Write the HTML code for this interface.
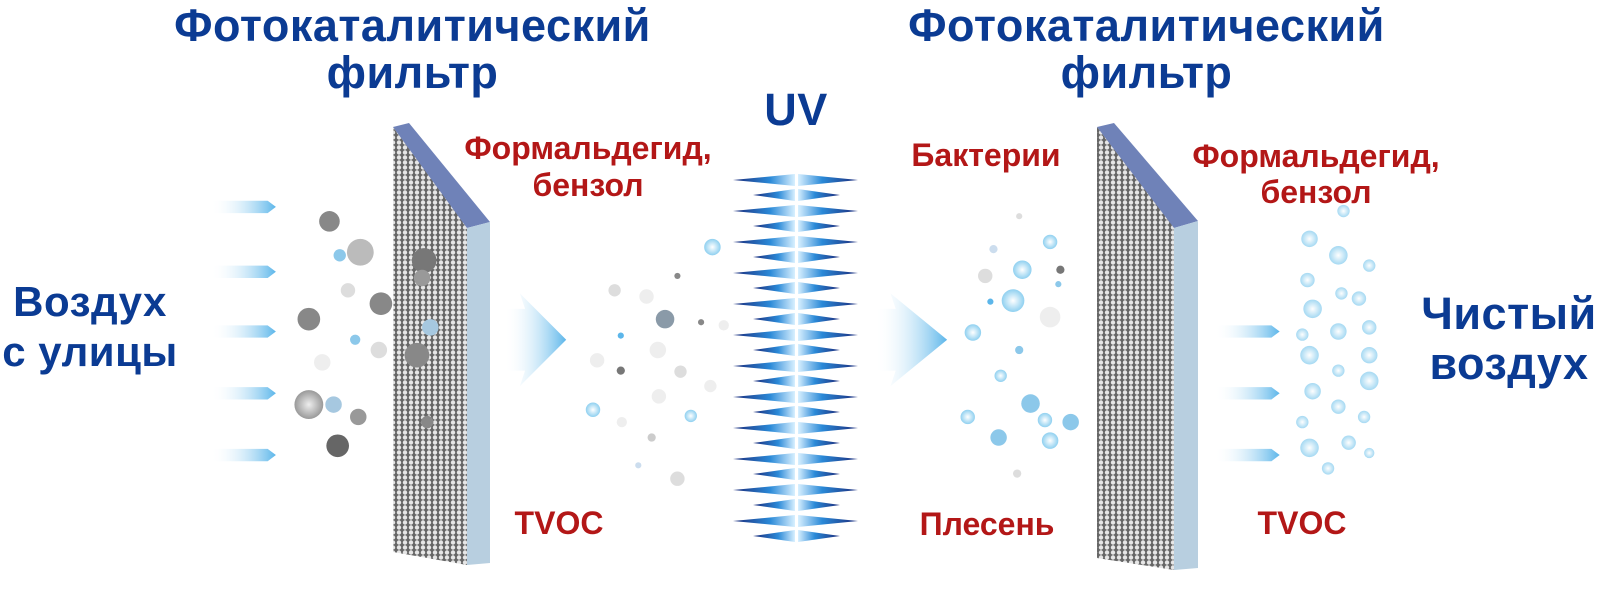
<!DOCTYPE html>
<html><head><meta charset="utf-8"><style>
body{margin:0;width:1606px;height:592px;background:#fff;overflow:hidden;position:relative;font-family:"Liberation Sans",sans-serif;font-weight:bold}
.t{position:absolute;white-space:nowrap;text-align:center}
.b{color:#0b3b93;font-size:45px;letter-spacing:0.5px}
.r{color:#b31717;font-size:32px}
</style></head><body>
<svg width="1606" height="592" style="position:absolute;left:0;top:0">
<defs>
<pattern id="mesh" width="6" height="5" patternUnits="userSpaceOnUse"><rect width="6" height="5" fill="#666"/><circle cx="3" cy="2.5" r="2.2" fill="#e6e6e6"/></pattern>
<linearGradient id="arr" x1="0" x2="1"><stop offset="0" stop-color="#fff" stop-opacity="0"/><stop offset="1" stop-color="#5cb6ea"/></linearGradient>
<linearGradient id="sl" x1="0" x2="1"><stop offset="0" stop-color="#1a2a7a"/><stop offset="0.6" stop-color="#2b8ad8"/><stop offset="1" stop-color="#d8f0ff"/></linearGradient>
<linearGradient id="sr" x1="1" x2="0"><stop offset="0" stop-color="#1a2a7a"/><stop offset="0.6" stop-color="#2b8ad8"/><stop offset="1" stop-color="#d8f0ff"/></linearGradient>
<radialGradient id="bub"><stop offset="0" stop-color="#fff"/><stop offset="1" stop-color="#8fd0f0"/></radialGradient>
<radialGradient id="gr"><stop offset="0" stop-color="#eee"/><stop offset="1" stop-color="#999"/></radialGradient>
<g id="L"><polygon points="733,0 795,-6 795,6" fill="url(#sl)"/><polygon points="858,0 798,-6 798,6" fill="url(#sr)"/></g>
<g id="S"><polygon points="753,0 795,-6 795,6" fill="url(#sl)"/><polygon points="840,0 798,-6 798,6" fill="url(#sr)"/></g>
</defs>
<polygon points="393,127 467,227 467,565 393,552" fill="url(#mesh)"/>
<polygon points="393,127 409,123 490,222 467,228" fill="#6f82b8"/>
<polygon points="467,228 490,222 490,563 467,565" fill="#b8cfe0"/>
<polygon points="1097,127 1174,227 1174,570 1097,558" fill="url(#mesh)"/>
<polygon points="1097,127 1114,123 1198,221 1174,228" fill="#6f82b8"/>
<polygon points="1174,228 1198,221 1198,568 1174,570" fill="#b8cfe0"/>
<use href="#L" y="180"/><use href="#S" y="195"/><use href="#L" y="211"/><use href="#S" y="226"/><use href="#L" y="242"/><use href="#S" y="257"/>
<use href="#L" y="273"/><use href="#S" y="288"/><use href="#L" y="304"/><use href="#S" y="319"/><use href="#L" y="335"/><use href="#S" y="350"/>
<use href="#L" y="366"/><use href="#S" y="381"/><use href="#L" y="397"/><use href="#S" y="412"/><use href="#L" y="428"/><use href="#S" y="443"/>
<use href="#L" y="459"/><use href="#S" y="474"/><use href="#L" y="490"/><use href="#S" y="505"/><use href="#L" y="521"/><use href="#S" y="536"/>
<g transform="scale(1.0295)">
<g fill="url(#arr)">
<path d="M205 195h55l8 6-8 6h-55z"/><path d="M205 258h55l8 6-8 6h-55z"/><path d="M205 316h55l8 6-8 6h-55z"/><path d="M205 376h55l8 6-8 6h-55z"/><path d="M205 436h55l8 6-8 6h-55z"/>
<path d="M1180 316h55l8 6-8 6h-55z"/><path d="M1180 376h55l8 6-8 6h-55z"/><path d="M1180 436h55l8 6-8 6h-55z"/>
<path d="M490 300h20l-5-15 45 45-45 45 5-15h-20z"/>
<path d="M850 300h20l-5-15 55 45-55 45 5-15h-20z"/>
</g>
<g>
<circle cx="320" cy="215" r="10" fill="#888"/><circle cx="350" cy="245" r="13" fill="#bbb"/><circle cx="330" cy="248" r="6" fill="#8cc8ea"/>
<circle cx="412" cy="253" r="12" fill="#777"/><circle cx="410" cy="270" r="8" fill="#999"/><circle cx="338" cy="282" r="7" fill="#ddd"/>
<circle cx="370" cy="295" r="11" fill="#888"/><circle cx="300" cy="310" r="11" fill="#888"/><circle cx="345" cy="330" r="5" fill="#8cc8ea"/>
<circle cx="368" cy="340" r="8" fill="#ddd"/><circle cx="405" cy="345" r="12" fill="#888"/><circle cx="418" cy="318" r="8" fill="#a6c8e0"/>
<circle cx="313" cy="352" r="8" fill="#eee"/><circle cx="300" cy="393" r="14" fill="url(#gr)"/><circle cx="324" cy="393" r="8" fill="#a6c8e0"/>
<circle cx="348" cy="405" r="8" fill="#999"/><circle cx="328" cy="433" r="11" fill="#666"/><circle cx="415" cy="410" r="6" fill="#888"/>
</g>
<g>
<circle cx="692" cy="240" r="8" fill="url(#bub)"/><circle cx="597" cy="282" r="6" fill="#ddd"/><circle cx="628" cy="288" r="7" fill="#eee"/>
<circle cx="658" cy="268" r="3" fill="#888"/><circle cx="646" cy="310" r="9" fill="#8a9aa8"/><circle cx="603" cy="326" r="3" fill="#5cb6ea"/>
<circle cx="681" cy="313" r="3" fill="#888"/><circle cx="703" cy="316" r="5" fill="#eee"/><circle cx="639" cy="340" r="8" fill="#eee"/>
<circle cx="580" cy="350" r="7" fill="#eee"/><circle cx="603" cy="360" r="4" fill="#777"/><circle cx="661" cy="361" r="6" fill="#ddd"/>
<circle cx="690" cy="375" r="6" fill="#eee"/><circle cx="640" cy="385" r="7" fill="#eee"/><circle cx="576" cy="398" r="7" fill="url(#bub)"/>
<circle cx="604" cy="410" r="5" fill="#eee"/><circle cx="671" cy="404" r="6" fill="url(#bub)"/><circle cx="633" cy="425" r="4" fill="#ccc"/>
<circle cx="658" cy="465" r="7" fill="#ddd"/><circle cx="620" cy="452" r="3" fill="#cde"/>
</g>
<g>
<circle cx="990" cy="210" r="3" fill="#ddd"/><circle cx="1020" cy="235" r="7" fill="url(#bub)"/><circle cx="965" cy="242" r="4" fill="#cde"/>
<circle cx="993" cy="262" r="9" fill="url(#bub)"/><circle cx="957" cy="268" r="7" fill="#ddd"/><circle cx="1030" cy="262" r="4" fill="#777"/>
<circle cx="984" cy="292" r="11" fill="url(#bub)"/><circle cx="1028" cy="276" r="3" fill="#8cc8ea"/><circle cx="1020" cy="308" r="10" fill="#eee"/>
<circle cx="962" cy="293" r="3" fill="#5cb6ea"/><circle cx="945" cy="323" r="8" fill="url(#bub)"/><circle cx="990" cy="340" r="4" fill="#8cc8ea"/>
<circle cx="972" cy="365" r="6" fill="url(#bub)"/><circle cx="1001" cy="392" r="9" fill="#8cc8ea"/><circle cx="1040" cy="410" r="8" fill="#8cc8ea"/>
<circle cx="940" cy="405" r="7" fill="url(#bub)"/><circle cx="1015" cy="408" r="7" fill="url(#bub)"/><circle cx="970" cy="425" r="8" fill="#8cc8ea"/>
<circle cx="1020" cy="428" r="8" fill="url(#bub)"/><circle cx="988" cy="460" r="4" fill="#ddd"/>
</g>
<g fill="url(#bub)" opacity="0.8">
<circle cx="1305" cy="205" r="6"/><circle cx="1272" cy="232" r="8"/><circle cx="1300" cy="248" r="9"/><circle cx="1330" cy="258" r="6"/>
<circle cx="1270" cy="272" r="7"/><circle cx="1303" cy="285" r="6"/><circle cx="1275" cy="300" r="9"/><circle cx="1320" cy="290" r="7"/>
<circle cx="1265" cy="325" r="6"/><circle cx="1300" cy="322" r="8"/><circle cx="1330" cy="318" r="7"/><circle cx="1272" cy="345" r="9"/>
<circle cx="1330" cy="345" r="8"/><circle cx="1300" cy="360" r="6"/><circle cx="1275" cy="380" r="8"/><circle cx="1330" cy="370" r="9"/>
<circle cx="1300" cy="395" r="7"/><circle cx="1265" cy="410" r="6"/><circle cx="1325" cy="405" r="6"/><circle cx="1272" cy="435" r="9"/>
<circle cx="1310" cy="430" r="7"/><circle cx="1290" cy="455" r="6"/><circle cx="1330" cy="440" r="5"/>
</g>
</g>
</svg>
<div class="t b" style="left:160px;top:0px;width:505px">Фотокаталитический</div>
<div class="t b" style="left:160px;top:47px;width:505px">фильтр</div>
<div class="t b" style="left:894px;top:0px;width:505px">Фотокаталитический</div>
<div class="t b" style="left:894px;top:47px;width:505px">фильтр</div>
<div class="t b" style="left:756px;top:84px;width:80px">UV</div>
<div class="t b" style="left:0px;top:278px;width:180px;font-size:42px">Воздух</div>
<div class="t b" style="left:0px;top:328px;width:180px;font-size:42px">с улицы</div>
<div class="t b" style="left:1419px;top:288px;width:180px">Чистый</div>
<div class="t b" style="left:1419px;top:338px;width:180px">воздух</div>
<div class="t r" style="left:433px;top:130px;width:310px">Формальдегид,</div>
<div class="t r" style="left:433px;top:167px;width:310px">бензол</div>
<div class="t r" style="left:1161px;top:138px;width:310px">Формальдегид,</div>
<div class="t r" style="left:1161px;top:174px;width:310px">бензол</div>
<div class="t r" style="left:896px;top:137px;width:180px">Бактерии</div>
<div class="t r" style="left:897px;top:506px;width:180px">Плесень</div>
<div class="t r" style="left:494px;top:505px;width:130px">TVOC</div>
<div class="t r" style="left:1237px;top:505px;width:130px">TVOC</div>
</body></html>
